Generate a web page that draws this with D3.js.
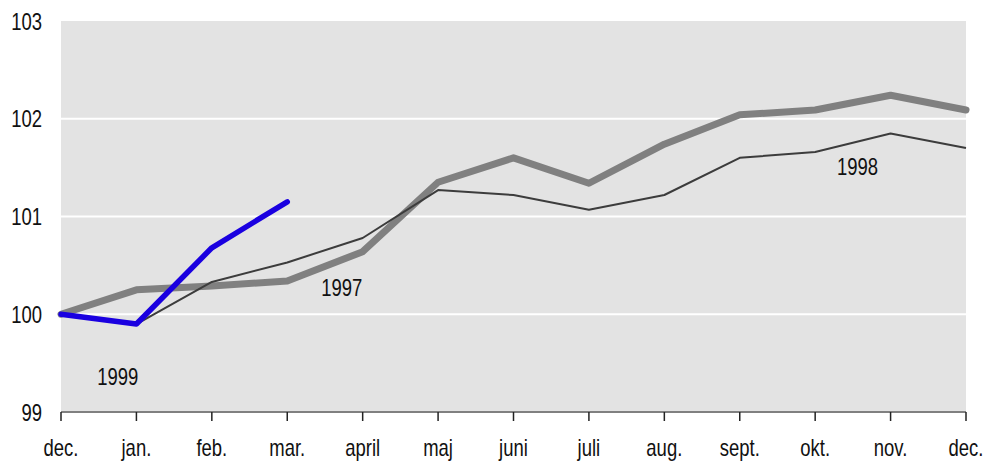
<!DOCTYPE html>
<html>
<head>
<meta charset="utf-8">
<script src="https://cdn.jsdelivr.net/npm/d3@7"></script>
<style>
  body { margin: 0; background: #fff; }
  text { font-family: "Liberation Sans Narrow", "Liberation Sans", Arial, sans-serif; font-size: 24px; fill: #111; }
</style>
</head>
<body>
<div id="okvir"></div>
<script>
const mjeseci = ["dec.", "jan.", "feb.", "mar.", "april", "maj", "juni", "juli", "aug.", "sept.", "okt.", "nov.", "dec."]
const yTicks = [99, 100, 101, 102, 103]

const serija1997 = [100, 100.25, 100.29, 100.34, 100.64, 101.35, 101.6, 101.34, 101.74, 102.04, 102.09, 102.24, 102.09]
const serija1998 = [100, 99.9, 100.33, 100.53, 100.78, 101.27, 101.22, 101.07, 101.22, 101.6, 101.66, 101.85, 101.7]
const serija1999 = [100, 99.9, 100.68, 101.15]

const dim = {
  sirina: 985,
  visina: 461,
  margine: { top: 21, right: 19, bottom: 49, left: 61 },
}
dim.grSirina = dim.sirina - dim.margine.left - dim.margine.right
dim.grVisina = dim.visina - dim.margine.top - dim.margine.bottom

const okvir = d3.select("#okvir").append("svg")
  .attr("width", dim.sirina)
  .attr("height", dim.visina)

const granice = okvir.append("g")
  .attr("transform", `translate(${dim.margine.left},${dim.margine.top})`)

const xSkala = d3.scaleLinear().domain([0, mjeseci.length - 1]).range([0, dim.grSirina])
const ySkala = d3.scaleLinear().domain([99, 103]).range([dim.grVisina, 0])

// uski font - stisnemo tekst ako nema "Narrow" varijante
const stisni = sel => sel.each(function () {
  const w = this.getComputedTextLength()
  d3.select(this).attr("textLength", w * 0.77).attr("lengthAdjust", "spacingAndGlyphs")
})

// pozadina
granice.append("rect")
  .attr("width", dim.grSirina)
  .attr("height", dim.grVisina)
  .attr("fill", "#e3e3e3")

// mreza
granice.selectAll(".grid").data(yTicks.filter(d => d > 99 && d < 103))
  .join("line")
  .attr("x1", 0).attr("x2", dim.grSirina)
  .attr("y1", d => ySkala(d)).attr("y2", d => ySkala(d))
  .attr("stroke", "#fff").attr("stroke-width", 2)

// y oznake
granice.selectAll(".ylab").data(yTicks)
  .join("text")
  .attr("x", -19)
  .attr("y", d => ySkala(d))
  .attr("dy", "0.36em")
  .attr("text-anchor", "end")
  .text(d => d)
  .call(stisni)

// x os
const xOs = granice.append("g").attr("transform", `translate(0,${dim.grVisina})`)
xOs.append("line").attr("x1", 0).attr("x2", dim.grSirina).attr("stroke", "#808080").attr("stroke-width", 2)
xOs.selectAll(".tick").data(mjeseci)
  .join("line")
  .attr("x1", (d, i) => xSkala(i)).attr("x2", (d, i) => xSkala(i))
  .attr("y1", 0).attr("y2", 9)
  .attr("stroke", "#222").attr("stroke-width", 1.5)
xOs.selectAll(".xlab").data(mjeseci)
  .join("text")
  .attr("x", (d, i) => xSkala(i))
  .attr("y", 44)
  .attr("text-anchor", "middle")
  .text(d => d)
  .call(stisni)

const linija = d3.line().x((d, i) => xSkala(i)).y(d => ySkala(d))

granice.append("path").datum(serija1997)
  .attr("d", linija).attr("fill", "none")
  .attr("stroke", "#808080").attr("stroke-width", 7).attr("stroke-linejoin", "round").attr("stroke-linecap", "round")

granice.append("path").datum(serija1998)
  .attr("d", linija).attr("fill", "none")
  .attr("stroke", "#3c3c3c").attr("stroke-width", 2).attr("stroke-linejoin", "round")

granice.append("path").datum(serija1999)
  .attr("d", linija).attr("fill", "none")
  .attr("stroke", "#1a00e0").attr("stroke-width", 5.5).attr("stroke-linejoin", "round").attr("stroke-linecap", "round")

// oznake serija
const oznake = [
  { t: "1997", i: 3.45, v: 100.27 },
  { t: "1998", i: 10.29, v: 101.51 },
  { t: "1999", i: 0.48, v: 99.36 },
]
granice.selectAll(".ser").data(oznake)
  .join("text")
  .attr("x", d => xSkala(d.i))
  .attr("y", d => ySkala(d.v))
  .attr("dy", "0.36em")
  .text(d => d.t)
  .call(stisni)
</script>
</body>
</html>
